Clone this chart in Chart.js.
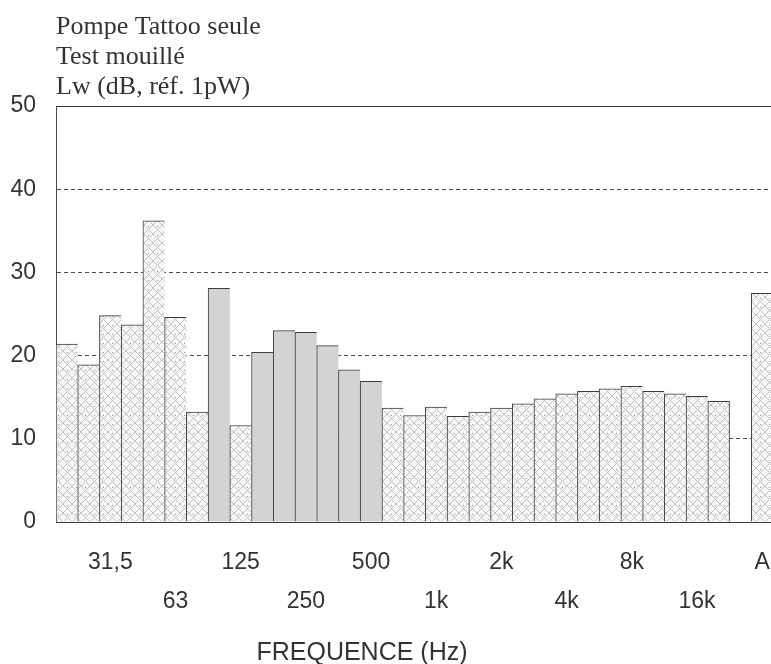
<!DOCTYPE html>
<html>
<head>
<meta charset="utf-8">
<script src="https://cdn.jsdelivr.net/npm/chart.js@4"></script>
<style>
  html, body { margin: 0; padding: 0; background: #fff; overflow: hidden; }
  #wrap { position: relative; width: 771px; height: 664px; }
  #xtitle {
    position: absolute; left: 0; top: 638px; width: 724px;
    text-align: center; color: #333;
    font: 25px/26px "Liberation Sans", Arial, sans-serif;
  }
</style>
</head>
<body>
<div id="wrap">
  <canvas id="chart-bars" width="773" height="664"></canvas>
  <div id="xtitle">FREQUENCE (Hz)</div>
</div>
<script>
// third-octave bands 20 Hz .. 20 kHz, an empty slot, then the A-weighted total
const bands = [
  "20", "25", "31,5", "40", "50", "63", "80", "100", "125", "160", "200",
  "250", "315", "400", "500", "630", "800", "1k", "1,25k", "1,6k", "2k",
  "2,5k", "3,15k", "4k", "5k", "6,3k", "8k", "10k", "12,5k", "16k", "20k",
  "", "A"
];
const levels = [
  21.4, 18.9, 24.8, 23.7, 36.2, 24.6, 13.2, 28.1, 11.6, 20.4, 23.0,
  22.8, 21.2, 18.3, 16.9, 13.7, 12.8, 13.8, 12.7, 13.2, 13.7,
  14.2, 14.8, 15.4, 15.7, 16.0, 16.3, 15.7, 15.4, 15.1, 14.5,
  null, 27.5
];
// bands drawn plain grey instead of hatched
const greyBands = ["100", "160", "200", "250", "315", "400", "500"];
const tickRow1 = ["31,5", "125", "500", "2k", "8k", "A"];
const tickRow2 = ["63", "250", "1k", "4k", "16k"];
const titleLines = ["Pompe Tattoo seule", "Test mouillé", "Lw (dB, réf. 1pW)"];
const yTicks = { min: 0, max: 50, step: 10 };

// cross-hatch with dots, like the scanned fill
function makeHatch() {
  const c = document.createElement("canvas");
  c.width = 9;
  c.height = 9;
  const g = c.getContext("2d");
  g.fillStyle = "#f7f7f7";
  g.fillRect(0, 0, 9, 9);
  g.strokeStyle = "#c2c2c2";
  g.lineWidth = 1;
  g.beginPath();
  g.moveTo(0, 0); g.lineTo(9, 9);
  g.moveTo(9, 0); g.lineTo(0, 9);
  g.stroke();
  g.fillStyle = "#8a8a8a";
  g.fillRect(4, 1, 1, 1);
  return g.createPattern(c, "repeat");
}

const ctx = document.getElementById("chart-bars").getContext("2d");
const hatch = makeHatch();
const sans = "'Liberation Sans', Arial, sans-serif";

new Chart(ctx, {
  type: "bar",
  data: {
    labels: bands,
    datasets: [
      {
        data: levels,
        backgroundColor: bands.map((b) => (greyBands.includes(b) ? "#d3d3d3" : hatch)),
        borderColor: "#3c3c3c",
        borderWidth: (c) => {
          const next = levels[c.dataIndex + 1];
          return { top: 1, left: 1, bottom: 0, right: next == null ? 1 : 0 };
        },
        categoryPercentage: 1,
        barPercentage: 1,
      },
    ],
  },
  options: {
    responsive: false,
    animation: false,
    devicePixelRatio: 1,
    layout: { padding: 0 },
    plugins: {
      legend: { display: false },
      tooltip: { enabled: false },
      title: {
        display: true,
        text: titleLines,
        align: "start",
        fullSize: false,
        color: "#333",
        font: { family: "'Liberation Serif', 'Times New Roman', serif", size: 26, weight: "normal", lineHeight: 1.154 },
        padding: { top: 12, bottom: 4 },
      },
    },
    scales: {
      x: {
        grid: { display: false, drawTicks: false },
        border: { display: true, color: "#3c3c3c", width: 1, z: 1 },
        ticks: {
          autoSkip: false,
          maxRotation: 0,
          minRotation: 0,
          padding: 21,
          color: "#333",
          font: { family: sans, size: 23, lineHeight: 1.71 },
          callback: function (value, index) {
            const b = bands[index];
            if (tickRow1.includes(b)) return b;
            if (tickRow2.includes(b)) return ["", b];
            return "";
          },
        },
        afterFit: (scale) => {
          scale.height = 142;
          scale.paddingLeft = 0;
          scale.paddingRight = 0;
        },
      },
      xTop: {
        type: "category",
        position: "top",
        labels: bands,
        grid: { display: false, drawTicks: false },
        border: { display: true, color: "#3c3c3c", width: 1, z: 1 },
        ticks: { display: false },
        afterFit: (scale) => {
          scale.height = 0;
          scale.paddingLeft = 0;
          scale.paddingRight = 0;
        },
      },
      y: {
        min: yTicks.min,
        max: yTicks.max,
        grid: { color: "#4a4a4a", lineWidth: 1, drawTicks: false },
        border: { display: true, color: "#4a4a4a", width: 1, dash: [4, 3] },
        ticks: {
          stepSize: yTicks.step,
          padding: 20,
          color: "#333",
          font: { family: sans, size: 23 },
        },
        afterFit: (scale) => {
          scale.width = 56;
        },
      },
    },
  },
});
</script>
</body>
</html>
